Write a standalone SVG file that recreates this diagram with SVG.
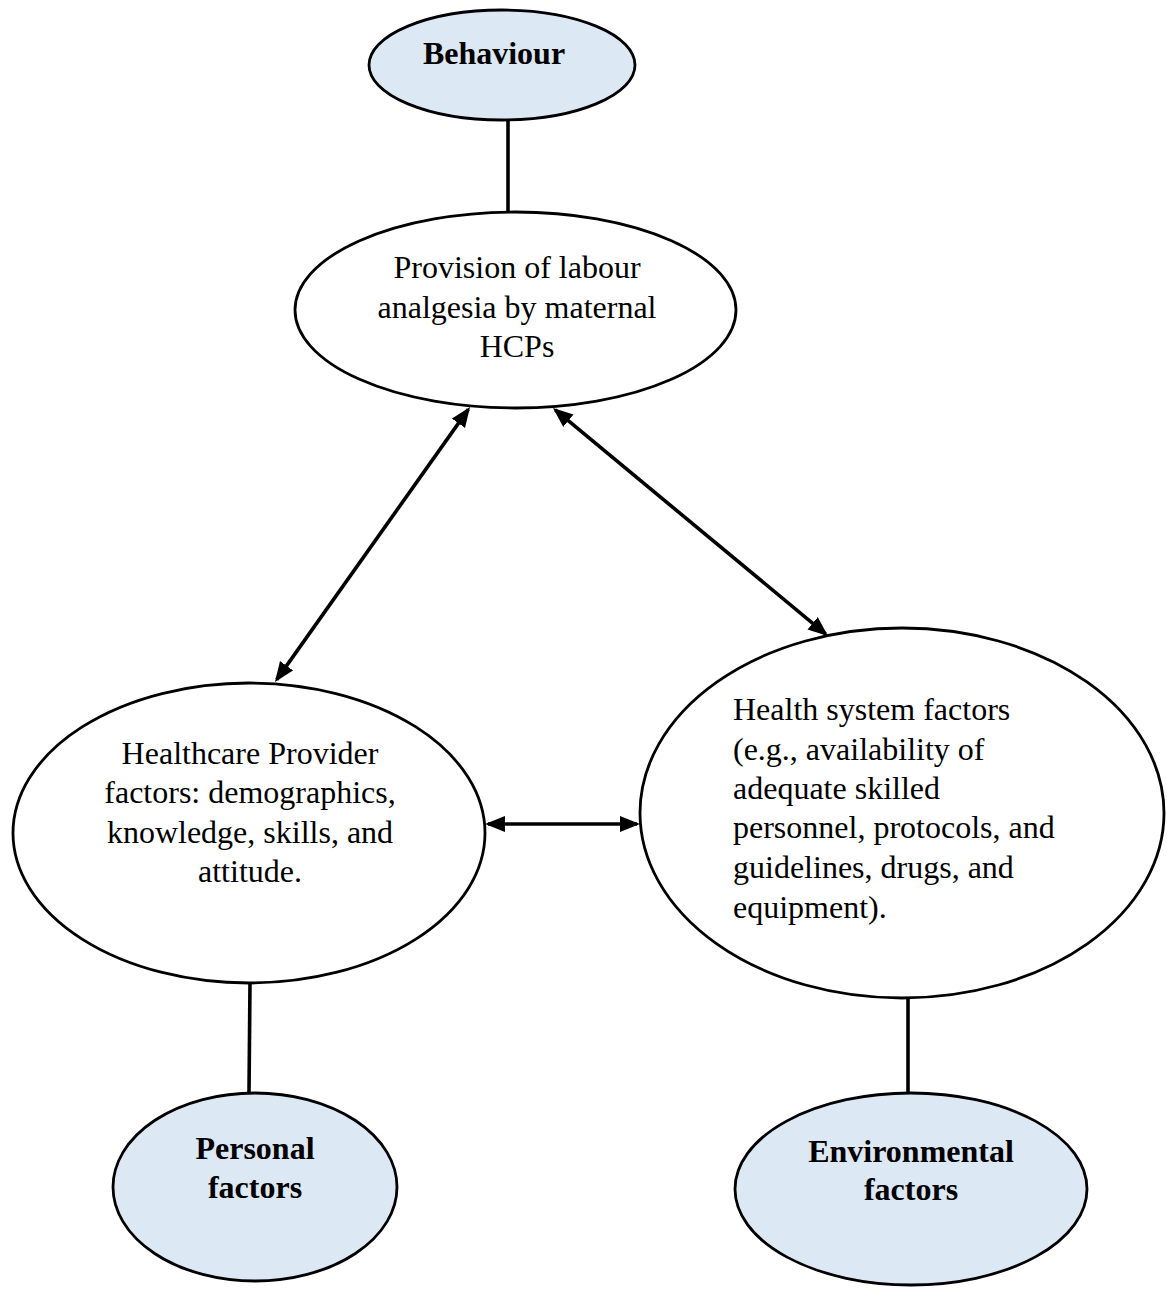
<svg xmlns="http://www.w3.org/2000/svg" width="1167" height="1289" viewBox="0 0 1167 1289">
<style>
.node{stroke:#000;stroke-width:2.8}
.blue{fill:#DDE8F5}
.white{fill:#fff}
.t{font-family:"Liberation Serif","Times New Roman",serif;font-size:32px;fill:#000}
.b{font-weight:bold}
.c{text-anchor:middle}
.conn{stroke:#000;stroke-width:3.6;fill:none}
</style>
<defs>
<marker id="ah" markerUnits="userSpaceOnUse" markerWidth="22" markerHeight="18" refX="17" refY="8" orient="auto-start-reverse">
<path d="M0,0 L20,8 L0,16 z" fill="#000"/>
</marker>
</defs>
<rect width="1167" height="1289" fill="#fff"/>
<g id="connectors">
<line class="conn" x1="508" y1="119" x2="508" y2="212"/>
<line class="conn" x1="250" y1="983" x2="249" y2="1093"/>
<line class="conn" x1="908" y1="997" x2="908" y2="1093"/>
<line class="conn" x1="468.3" y1="409.4" x2="276.7" y2="679.6" marker-start="url(#ah)" marker-end="url(#ah)"/>
<line class="conn" x1="555.3" y1="409.9" x2="825.7" y2="634.1" marker-start="url(#ah)" marker-end="url(#ah)"/>
<line class="conn" x1="488" y1="824" x2="637" y2="824" marker-start="url(#ah)" marker-end="url(#ah)"/>
</g>
<g id="behaviour">
<ellipse class="node blue" cx="502" cy="65" rx="133" ry="55"/>
<text class="t b c" x="494" y="64">Behaviour</text>
</g>
<g id="provision">
<ellipse class="node white" cx="515.5" cy="310" rx="220.5" ry="98"/>
<text class="t c" x="517" y="278">Provision of labour</text>
<text class="t c" x="517" y="318">analgesia by maternal</text>
<text class="t c" x="517" y="357">HCPs</text>
</g>
<g id="healthcare-provider">
<ellipse class="node white" cx="249" cy="833" rx="236" ry="150"/>
<text class="t c" x="250" y="764">Healthcare Provider</text>
<text class="t c" x="250" y="803">factors: demographics,</text>
<text class="t c" x="250" y="843">knowledge, skills, and</text>
<text class="t c" x="250" y="882">attitude.</text>
</g>
<g id="health-system">
<ellipse class="node white" cx="902" cy="813" rx="262" ry="185"/>
<text class="t" x="733" y="720">Health system factors</text>
<text class="t" x="733" y="760">(e.g., availability of</text>
<text class="t" x="733" y="799">adequate skilled</text>
<text class="t" x="733" y="838">personnel, protocols, and</text>
<text class="t" x="733" y="878">guidelines, drugs, and</text>
<text class="t" x="733" y="918">equipment).</text>
</g>
<g id="personal">
<ellipse class="node blue" cx="255" cy="1187" rx="142" ry="94"/>
<text class="t b c" x="255" y="1159">Personal</text>
<text class="t b c" x="255" y="1198">factors</text>
</g>
<g id="environmental">
<ellipse class="node blue" cx="911" cy="1189" rx="176" ry="96"/>
<text class="t b c" x="911" y="1162">Environmental</text>
<text class="t b c" x="911" y="1200">factors</text>
</g>
</svg>
